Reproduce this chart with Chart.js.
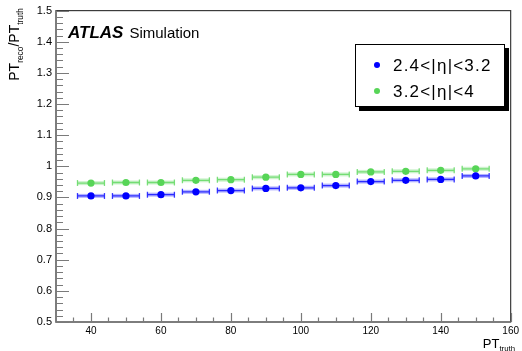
<!DOCTYPE html>
<html>
<head>
<meta charset="utf-8">
<script src="https://cdn.jsdelivr.net/npm/chart.js@4.4.1/dist/chart.umd.min.js"></script>
<style>
  html, body { margin: 0; padding: 0; background: #ffffff; }
  #wrap { width: 522px; height: 351px; }
</style>
</head>
<body>
<div id="wrap"><canvas id="c" width="522" height="351"></canvas></div>
<script>
// Reconstructed / true transverse momentum versus true PT, two forward eta ranges
const ptTruth = [40, 50, 60, 70, 80, 90, 100, 110, 120, 130, 140, 150];
const binHalfWidth = [4, 4, 4, 4, 4, 4, 4, 4, 4, 4, 4, 4];
const ratioEta24to32 = [0.905, 0.905, 0.909, 0.918, 0.922, 0.929, 0.931, 0.938, 0.951, 0.955, 0.958, 0.969];
const ratioEta32to4 = [0.946, 0.948, 0.948, 0.955, 0.957, 0.965, 0.974, 0.974, 0.982, 0.984, 0.987, 0.992];
const seriesLabels = ['2.4<|η|<3.2', '3.2<|η|<4'];
const xTickLabels = [40, 60, 80, 100, 120, 140, 160];
const yTickLabels = [0.5, 0.6, 0.7, 0.8, 0.9, 1.0, 1.1, 1.2, 1.3, 1.4, 1.5];

const BLUE = '#0000ff';
const GREEN = '#57d557';
const FONT = '"Liberation Sans", Arial, Helvetica, sans-serif';

function toPoints(values) {
  return ptTruth.map((x, i) => ({ x: x, y: values[i], hw: binHalfWidth[i] }));
}

function rgba(hex, a) {
  const n = parseInt(hex.slice(1), 16);
  return `rgba(${(n >> 16) & 255},${(n >> 8) & 255},${n & 255},${a})`;
}

// Draws text runs where some runs are subscripts, e.g. PT_truth
function drawSubText(ctx, parts, x, y, size) {
  let cx = x;
  for (const p of parts) {
    const fs = p.sub ? size * 0.6 : size;
    ctx.font = `${fs}px ${FONT}`;
    ctx.fillText(p.t, cx, y + (p.sub ? size * 0.25 : 0));
    cx += ctx.measureText(p.t).width;
  }
  return cx - x;
}
function measureSubText(ctx, parts, size) {
  let w = 0;
  for (const p of parts) {
    const fs = p.sub ? size * 0.6 : size;
    ctx.font = `${fs}px ${FONT}`;
    w += ctx.measureText(p.t).width;
  }
  return w;
}

const rootStyle = {
  id: 'rootStyle',
  beforeDatasetsDraw(chart) {
    const { ctx, chartArea: a, scales: { x, y } } = chart;
    ctx.save();
    // frame
    ctx.strokeStyle = '#3c3c3c';
    ctx.lineWidth = 1.2;
    ctx.strokeRect(a.left, a.top, a.right - a.left, a.bottom - a.top);

    // axis lines
    ctx.strokeStyle = '#7a7a7a';
    ctx.lineWidth = 1.5;
    ctx.beginPath();
    ctx.moveTo(a.left, a.top); ctx.lineTo(a.left, a.bottom); ctx.lineTo(a.right, a.bottom);
    ctx.stroke();

    // inward ticks on the y axis
    ctx.lineWidth = 1.2;
    ctx.beginPath();
    for (let k = 0; k <= 50; k++) {
      const v = 0.5 + k * 0.02;
      const py = Math.round(y.getPixelForValue(v)) + 0.5;
      const major = k % 5 === 0;
      ctx.moveTo(a.left, py);
      ctx.lineTo(a.left + (major ? 13 : 7), py);
    }
    // inward ticks on the x axis
    for (let v = 35; v <= 160; v += 5) {
      const px = Math.round(x.getPixelForValue(v)) + 0.5;
      const major = v % 20 === 0;
      ctx.moveTo(px, a.bottom);
      ctx.lineTo(px, a.bottom - (major ? 9 : 4.5));
    }
    ctx.stroke();

    // horizontal error bars
    chart.data.datasets.forEach((ds) => {
      const col = ds.backgroundColor;
      ds.data.forEach((p) => {
        const x0 = x.getPixelForValue(p.x - p.hw);
        const x1 = x.getPixelForValue(p.x + p.hw);
        const py = y.getPixelForValue(p.y);
        ctx.strokeStyle = rgba(col, 0.3);
        ctx.lineWidth = 4;
        ctx.beginPath(); ctx.moveTo(x0, py); ctx.lineTo(x1, py); ctx.stroke();
        ctx.strokeStyle = rgba(col, 0.75);
        ctx.lineWidth = 1.3;
        ctx.beginPath();
        ctx.moveTo(x0, py); ctx.lineTo(x1, py);
        ctx.moveTo(x0 + 0.5, py - 3); ctx.lineTo(x0 + 0.5, py + 3);
        ctx.moveTo(x1 - 0.5, py - 3); ctx.lineTo(x1 - 0.5, py + 3);
        ctx.stroke();
      });
    });
    ctx.restore();
  },
  afterDraw(chart) {
    const { ctx } = chart;
    ctx.save();
    ctx.fillStyle = '#000';
    ctx.textBaseline = 'alphabetic';

    // ATLAS label
    ctx.font = `italic bold 17px ${FONT}`;
    ctx.fillText('ATLAS', 68, 38);
    const aw = ctx.measureText('ATLAS').width;
    ctx.font = `15px ${FONT}`;
    ctx.fillText('Simulation', 68 + aw + 6, 38);

    // x axis title
    const xParts = [{ t: 'PT' }, { t: 'truth', sub: true }];
    const xw = measureSubText(ctx, xParts, 13);
    drawSubText(ctx, xParts, 515 - xw, 348, 13);

    // y axis title, rotated, ending near the top of the frame
    const yParts = [{ t: 'PT' }, { t: 'reco', sub: true }, { t: '/PT' }, { t: 'truth', sub: true }];
    const yw = measureSubText(ctx, yParts, 14);
    ctx.save();
    ctx.translate(19, 8 + yw);
    ctx.rotate(-Math.PI / 2);
    drawSubText(ctx, yParts, 0, 0, 14);
    ctx.restore();

    // legend box with drop shadow
    const bx = 355, by = 44, bw = 150, bh = 63;
    ctx.fillStyle = '#000';
    ctx.fillRect(bx + 4, by + 4, bw, bh);
    ctx.fillStyle = '#fff';
    ctx.fillRect(bx, by, bw, bh);
    ctx.strokeStyle = '#000';
    ctx.lineWidth = 1;
    ctx.strokeRect(bx + 0.5, by + 0.5, bw - 1, bh - 1);
    chart.data.datasets.forEach((ds, i) => {
      const ly = by + 21 + i * 26;
      ctx.fillStyle = ds.backgroundColor;
      ctx.beginPath(); ctx.arc(377, ly, 3, 0, Math.PI * 2); ctx.fill();
      ctx.fillStyle = '#000';
      ctx.font = `17px ${FONT}`;
      ctx.letterSpacing = '1.2px';
      ctx.textBaseline = 'middle';
      ctx.fillText(ds.label, 393, ly + 1);
      ctx.letterSpacing = '0px';
    });
    ctx.restore();
  }
};

new Chart(document.getElementById('c'), {
  type: 'scatter',
  data: {
    datasets: [
      { label: seriesLabels[0], data: toPoints(ratioEta24to32), backgroundColor: BLUE, borderColor: BLUE,
        pointRadius: 3.6, pointHoverRadius: 3.6, borderWidth: 0 },
      { label: seriesLabels[1], data: toPoints(ratioEta32to4), backgroundColor: GREEN, borderColor: GREEN,
        pointRadius: 3.6, pointHoverRadius: 3.6, borderWidth: 0 }
    ]
  },
  options: {
    responsive: false,
    animation: false,
    events: [],
    layout: { padding: { left: 0, right: 9, top: 10, bottom: 0 } },
    plugins: { legend: { display: false }, tooltip: { enabled: false } },
    scales: {
      x: {
        type: 'linear', min: 30, max: 160,
        grid: { display: false, drawTicks: false }, border: { display: false },
        afterBuildTicks(s) { s.ticks = xTickLabels.map(v => ({ value: v })); },
        afterFit(s) { s.height = 29; },
        ticks: { padding: 3, color: '#000', font: { family: FONT, size: 10 }, maxRotation: 0, autoSkip: false }
      },
      y: {
        type: 'linear', min: 0.5, max: 1.5,
        grid: { display: false, drawTicks: false }, border: { display: false },
        afterBuildTicks(s) { s.ticks = yTickLabels.map(v => ({ value: v })); },
        afterFit(s) { s.width = 56; },
        ticks: { padding: 4, color: '#000', font: { family: FONT, size: 11 }, autoSkip: false,
          callback: (v) => String(Number(v.toFixed(1))) }
      }
    }
  },
  plugins: [rootStyle]
});
</script>
</body>
</html>
